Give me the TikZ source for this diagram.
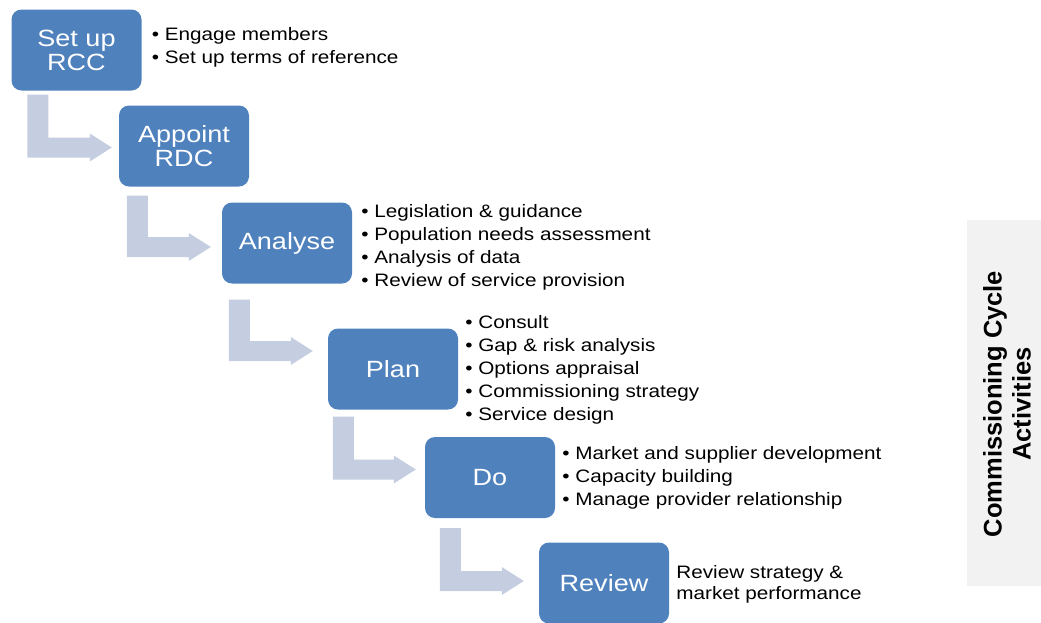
\documentclass[tikz,border=0pt]{standalone}
\usepackage{fontspec}
\setmainfont{Liberation Sans}[FakeStretch=1.15]
\newfontfamily\sidefont{Liberation Sans}
\usetikzlibrary{calc}
\definecolor{stepblue}{HTML}{4F81BD}
\definecolor{flowgray}{HTML}{C5CDE0}
\definecolor{panelgray}{HTML}{F2F2F2}
\tikzset{
  stage/.style={fill=stepblue, rounded corners=10pt, minimum width=130pt, minimum height=81pt,
    inner sep=0pt, text=white, align=center, font=\fontsize{23.5}{24}\selectfont},
  notes/.style={anchor=west, inner sep=0pt, align=left, font=\fontsize{18}{23}\selectfont},
}
% L-shaped block arrow: #1 top left of the stem, #2 the tip
\newcommand\stepflow[2]{%
  \fill[flowgray] let \p1=#1, \p2=#2 in
    (\x1,\y1) -- (\x1+21pt,\y1) -- (\x1+21pt,\y2+10pt) -- (\x2-22pt,\y2+10pt)
    -- (\x2-22pt,\y2+14pt) -- (\x2,\y2) -- (\x2-22pt,\y2-14pt) -- (\x2-22pt,\y2-10pt)
    -- (\x1,\y2-10pt) -- cycle;}
\begin{document}
\begin{tikzpicture}[x=1pt, y=-1pt]
  \useasboundingbox (0,0) rectangle (1041,622);

  \fill[panelgray] (967,220) rectangle (1045,586);
  \node[rotate=90, align=center, font=\sidefont\bfseries\fontsize{25.5}{29}\selectfont] (side) at (1007,404)
    {Commissioning Cycle\\Activities};

  \node[stage] (rcc) at (76.5,50) {Set up\\RCC};
  \node[stage] (rdc) at (184,146) {Appoint\\RDC};
  \node[stage] (analyse) at (287,243) {Analyse};
  \node[stage] (plan) at (393,369) {Plan};
  \node[stage] (do) at (490,477.5) {Do};
  \node[stage] (review) at (604,583) {Review};

  \stepflow{($(rcc.south west)+(16,4)$)}{($(rdc.west)+(-7,1.5)$)}
  \stepflow{($(rdc.south west)+(8,9)$)}{($(analyse.west)+(-11,4)$)}
  \stepflow{($(analyse.south west)+(7,16)$)}{($(plan.west)+(-15,-18)$)}
  \stepflow{($(plan.south west)+(5,7)$)}{($(do.west)+(-9,-8)$)}
  \stepflow{($(do.south west)+(15,10)$)}{($(review.west)+(-15,-2)$)}

  \node[notes] (rccnotes) at ($(rcc.east)+(10,-2.5)$)
    {• Engage members\\• Set up terms of reference};
  \node[notes] (analysenotes) at ($(analyse.east)+(9,4.5)$)
    {• Legislation \& guidance\\• Population needs assessment\\• Analysis of data\\• Review of service provision};
  \node[notes] (plannotes) at ($(plan.east)+(7,0.5)$)
    {• Consult\\• Gap \& risk analysis\\• Options appraisal\\• Commissioning strategy\\• Service design};
  \node[notes] (donotes) at ($(do.east)+(7,0)$)
    {• Market and supplier development\\• Capacity building\\• Manage provider relationship};
  \node[notes, font=\fontsize{18}{21}\selectfont] (reviewnotes) at ($(review.east)+(7,1)$)
    {Review strategy \&\\market performance};
\end{tikzpicture}
\end{document}
